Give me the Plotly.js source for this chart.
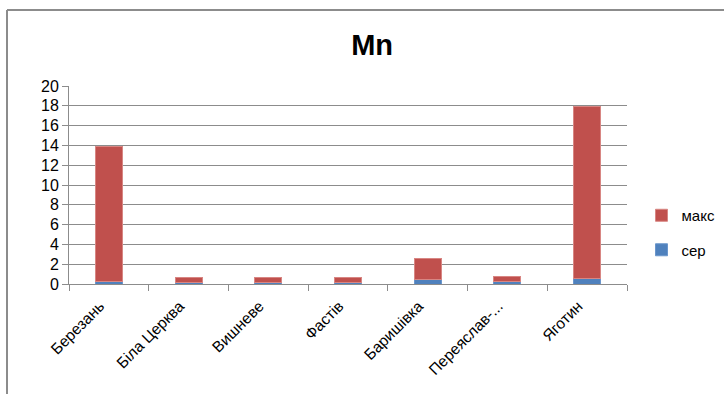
<!DOCTYPE html>
<html>
<head>
<meta charset="utf-8">
<script src="https://cdn.plot.ly/plotly-3.0.1.min.js"></script>
<style>
  html, body { margin: 0; padding: 0; background: #fff; }
  #chart { width: 724px; height: 394px; }
</style>
</head>
<body>
<div id="chart"></div>
<script>
// Manganese content by location: average (сер) stacked under maximum (макс)
const categories = ["Березань", "Біла Церква", "Вишневе", "Фастів", "Баришівка", "Переяслав-...", "Яготин"];
const serValues  = [0.27, 0.2, 0.2, 0.2, 0.43, 0.27, 0.53];
const maksValues = [13.6, 0.44, 0.44, 0.44, 2.17, 0.53, 17.4];
const yTicks = [0, 2, 4, 6, 8, 10, 12, 14, 16, 18, 20];

const font = "Liberation Sans, Arial, sans-serif";
const gridColor = "#8c8c8c";

const traces = [
  {
    type: "bar", name: "сер", x: categories, y: serValues,
    marker: { color: "#4F81BD", line: { color: "#6b96cc", width: 1 } },
    legendgroup: "a", legendrank: 2, width: 0.34, hoverinfo: "y+name"
  },
  {
    type: "bar", name: "макс", x: categories, y: maksValues,
    marker: { color: "#C0504D", line: { color: "#d88683", width: 1 } },
    legendgroup: "b", legendrank: 1, width: 0.34, hoverinfo: "y+name"
  }
];

const layout = {
  width: 724, height: 394,
  margin: { l: 69, r: 97, t: 86, b: 110, autoexpand: false },
  paper_bgcolor: "#ffffff", plot_bgcolor: "#ffffff",
  barmode: "stack",
  showlegend: true,
  font: { family: font, color: "#000" },
  title: {
    text: "<b>Mn</b>", font: { family: font, size: 29, color: "#000" },
    x: 0.514, xanchor: "center", y: 0.885, yanchor: "middle"
  },
  xaxis: {
    type: "category", tickson: "boundaries", automargin: false,
    ticks: "outside", ticklen: 6, tickcolor: gridColor, tickwidth: 1,
    showline: true, linecolor: gridColor, linewidth: 1,
    showgrid: false, tickangle: -45,
    ticklabelstandoff: 6, ticklabelshift: -9,
    tickfont: { family: font, size: 15.5, color: "#000" }
  },
  yaxis: {
    range: [0, 20], tickvals: yTicks, ticktext: yTicks.map(String),
    automargin: false,
    ticks: "outside", ticklen: 6, tickcolor: gridColor,
    showline: true, linecolor: gridColor, linewidth: 1,
    showgrid: true, gridcolor: gridColor, gridwidth: 1,
    zeroline: false,
    tickfont: { family: font, size: 16, color: "#000" }
  },
  legend: {
    x: 1.026, xanchor: "left", y: 0.26, yanchor: "middle",
    traceorder: "grouped", tracegroupgap: 12,
    font: { family: font, size: 15, color: "#000" },
    bgcolor: "rgba(0,0,0,0)"
  },
  shapes: [
    // chart frame edges (left and top)
    { type: "line", xref: "paper", yref: "paper",
      x0: -62 / 558, x1: -62 / 558, y0: -110 / 198, y1: 274 / 198,
      line: { color: "#8c8c8c", width: 2 } },
    { type: "line", xref: "paper", yref: "paper",
      x0: -62 / 558, x1: 97 / 558 + 1, y0: 274 / 198, y1: 274 / 198,
      line: { color: "#8c8c8c", width: 2 } }
  ]
};

Plotly.newPlot("chart", traces, layout, { displayModeBar: false, staticPlot: true });
</script>
</body>
</html>
